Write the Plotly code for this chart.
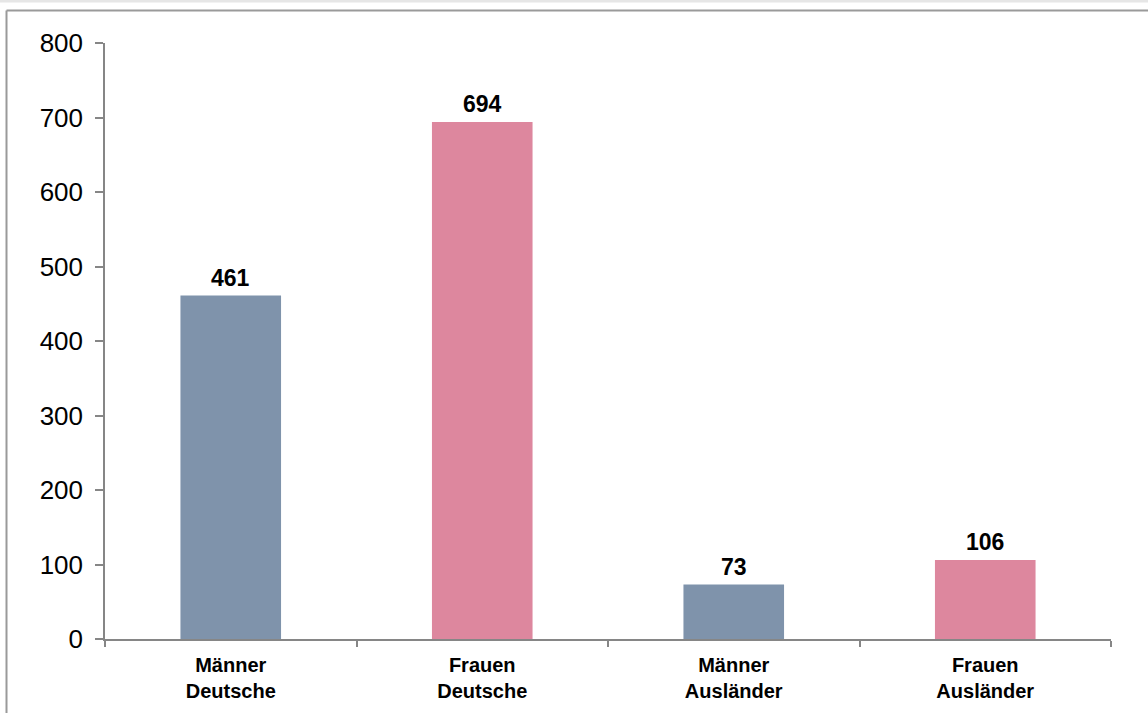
import plotly.graph_objects as go

categories = ["Männer<br>Deutsche", "Frauen<br>Deutsche", "Männer<br>Ausländer", "Frauen<br>Ausländer"]
values = [461, 694, 73, 106]
colors = ["#7f93ab", "#dd879e", "#7f93ab", "#dd879e"]
y_ticks = [0, 100, 200, 300, 400, 500, 600, 700, 800]

W, H = 1148, 713
L, R, T, B = 105, 37, 43, 74
pw, ph = W - L - R, H - T - B

def px_x(p):
    return (p - L) / pw

def px_y(p):
    return (H - B - p) / ph

fig = go.Figure()
fig.add_trace(go.Bar(
    x=categories, y=values, marker=dict(color=colors, line=dict(width=0)),
    width=0.4, hoverinfo="skip",
))

for c, v in zip(categories, values):
    fig.add_annotation(x=c, y=v, text=f"<b>{v}</b>", showarrow=False,
                       yanchor="bottom", yshift=3,
                       font=dict(family="Liberation Sans, Arial", size=23, color="#000000"))

shapes = [
    dict(type="rect", xref="paper", yref="paper", x0=px_x(-10), x1=px_x(W + 10),
         y0=px_y(2.5), y1=px_y(-10), fillcolor="#e6e6e6", line=dict(width=0), layer="below"),
    dict(type="line", xref="paper", yref="paper", x0=px_x(6.5), x1=px_x(W + 10),
         y0=px_y(10.5), y1=px_y(10.5), line=dict(color="#9a9a9a", width=2)),
    dict(type="line", xref="paper", yref="paper", x0=px_x(6.5), x1=px_x(6.5),
         y0=px_y(10.5), y1=px_y(H + 10), line=dict(color="#9a9a9a", width=2)),
]

fig.update_layout(
    width=W, height=H, autosize=False,
    margin=dict(l=L, r=R, t=T, b=B, pad=0),
    paper_bgcolor="white", plot_bgcolor="white",
    showlegend=False, bargap=0.6,
    shapes=shapes,
    xaxis=dict(
        showline=True, linecolor="#868686", linewidth=1.5,
        ticks="outside", tickson="boundaries", ticklen=6, tickcolor="#868686", tickwidth=1.5,
        tickfont=dict(family="Liberation Sans, Arial", size=20, color="#000000", weight="bold"),
        showgrid=False, zeroline=False, ticklabelstandoff=7,
    ),
    yaxis=dict(
        range=[0, 800], tickvals=y_ticks,
        showline=True, linecolor="#868686", linewidth=1.5,
        ticks="outside", ticklen=8, tickcolor="#868686", tickwidth=1.5,
        tickfont=dict(family="Liberation Sans, Arial", size=26, color="#000000"),
        showgrid=False, zeroline=False, ticklabelstandoff=7,
    ),
)

fig.write_html("out.html", config={"displayModeBar": False},
               post_script="document.body.style.margin='0';document.body.style.overflow='hidden';")
